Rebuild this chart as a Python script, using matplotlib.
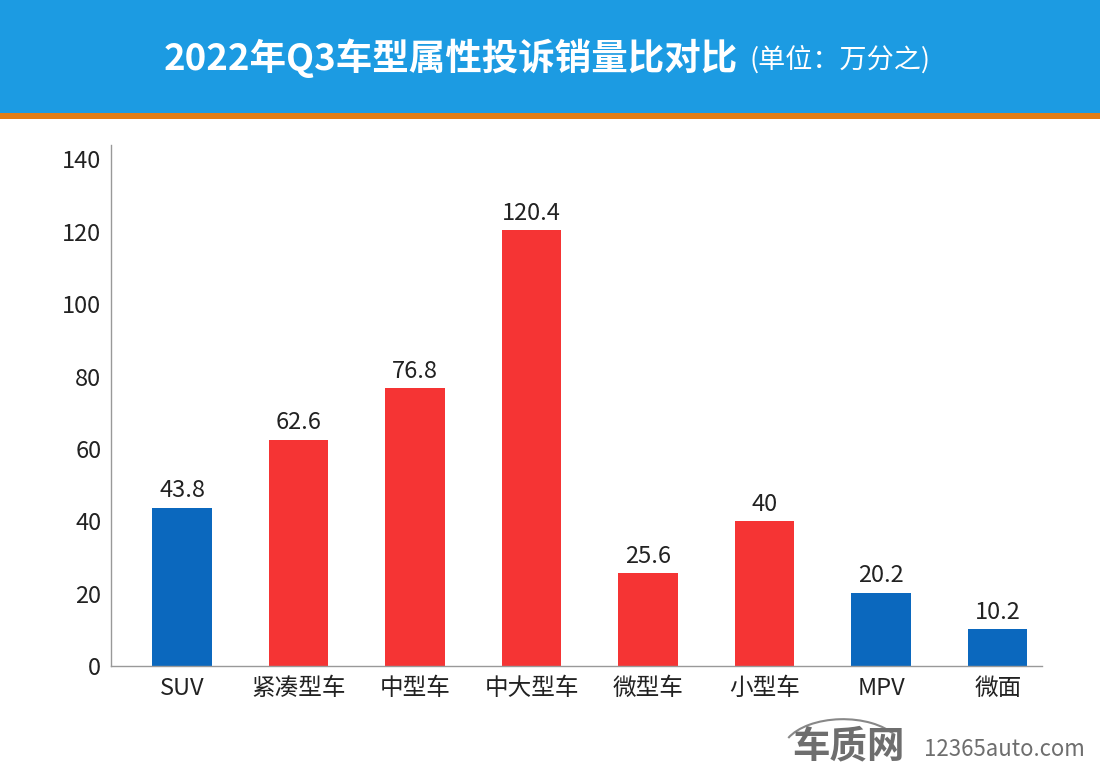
import matplotlib.pyplot as plt
from matplotlib.patches import Rectangle, Arc

plt.rcParams['font.family'] = ['Noto Sans CJK SC', 'DejaVu Sans']

categories = ['SUV', '紧凑型车', '中型车', '中大型车', '微型车', '小型车', 'MPV', '微面']
values = [43.8, 62.6, 76.8, 120.4, 25.6, 40, 20.2, 10.2]
labels = ['43.8', '62.6', '76.8', '120.4', '25.6', '40', '20.2', '10.2']
is_red = [False, True, True, True, True, True, False, False]
yticks = [0, 20, 40, 60, 80, 100, 120, 140]

blue = '#0b68be'
red = '#f53434'

fig = plt.figure(figsize=(11, 7.72), dpi=100)

# title banner
fig.patches.append(Rectangle((0, 1 - 113 / 772), 1, 113 / 772, transform=fig.transFigure,
                             facecolor='#1c9be2', edgecolor='none', zorder=0))
fig.patches.append(Rectangle((0, 1 - 119 / 772), 1, 6 / 772, transform=fig.transFigure,
                             facecolor='#e27d14', edgecolor='none', zorder=0))
fig.text(0.410, 1 - 58 / 772, '2022年Q3车型属性投诉销量比对比', color='white',
         fontsize=26.3, fontweight='bold', ha='center', va='center')
fig.text(0.681, 1 - 60 / 772, '(单位：万分之)', color='white',
         fontsize=19.5, ha='left', va='center')

ax = fig.add_axes([111 / 1100, 1 - 666 / 772, (1042 - 111) / 1100, (666 - 145) / 772])
colors = [red if r else blue for r in is_red]
x = list(range(len(categories)))
bars = ax.bar(x, values, width=0.51, color=colors, zorder=2)
for b, lab in zip(bars, labels):
    ax.text(b.get_x() + b.get_width() / 2, b.get_height() + 1.5, lab,
            ha='center', va='bottom', fontsize=17, color='#222222')

ax.set_xlim(-0.61, 7.38)
ax.set_ylim(0, 144)
ax.set_yticks(yticks)
ax.set_xticks(x)
ax.set_xticklabels(categories, fontsize=17, color='#222222')
ax.tick_params(axis='y', labelsize=17, labelcolor='#222222', length=0, pad=7)
ax.tick_params(axis='x', length=0, pad=8)
for s in ['top', 'right']:
    ax.spines[s].set_visible(False)
for s in ['left', 'bottom']:
    ax.spines[s].set_color('#999999')
    ax.spines[s].set_linewidth(1)

# watermark
fig.text(905 / 1100, 1 - 746 / 772, '车质网', color='#6e6e6e', fontsize=27,
         fontweight='bold', ha='right', va='center')
fig.text(1085 / 1100, 1 - 750 / 772, '12365auto.com', color='#6e6e6e', fontsize=16,
         ha='right', va='center')
fig.patches.append(Arc((843 / 1100, 1 - 752 / 772), 0.11, 0.085, theta1=25, theta2=160,
                       transform=fig.transFigure, color='#888888', lw=1.5))

fig.savefig('out.png', dpi=100)
